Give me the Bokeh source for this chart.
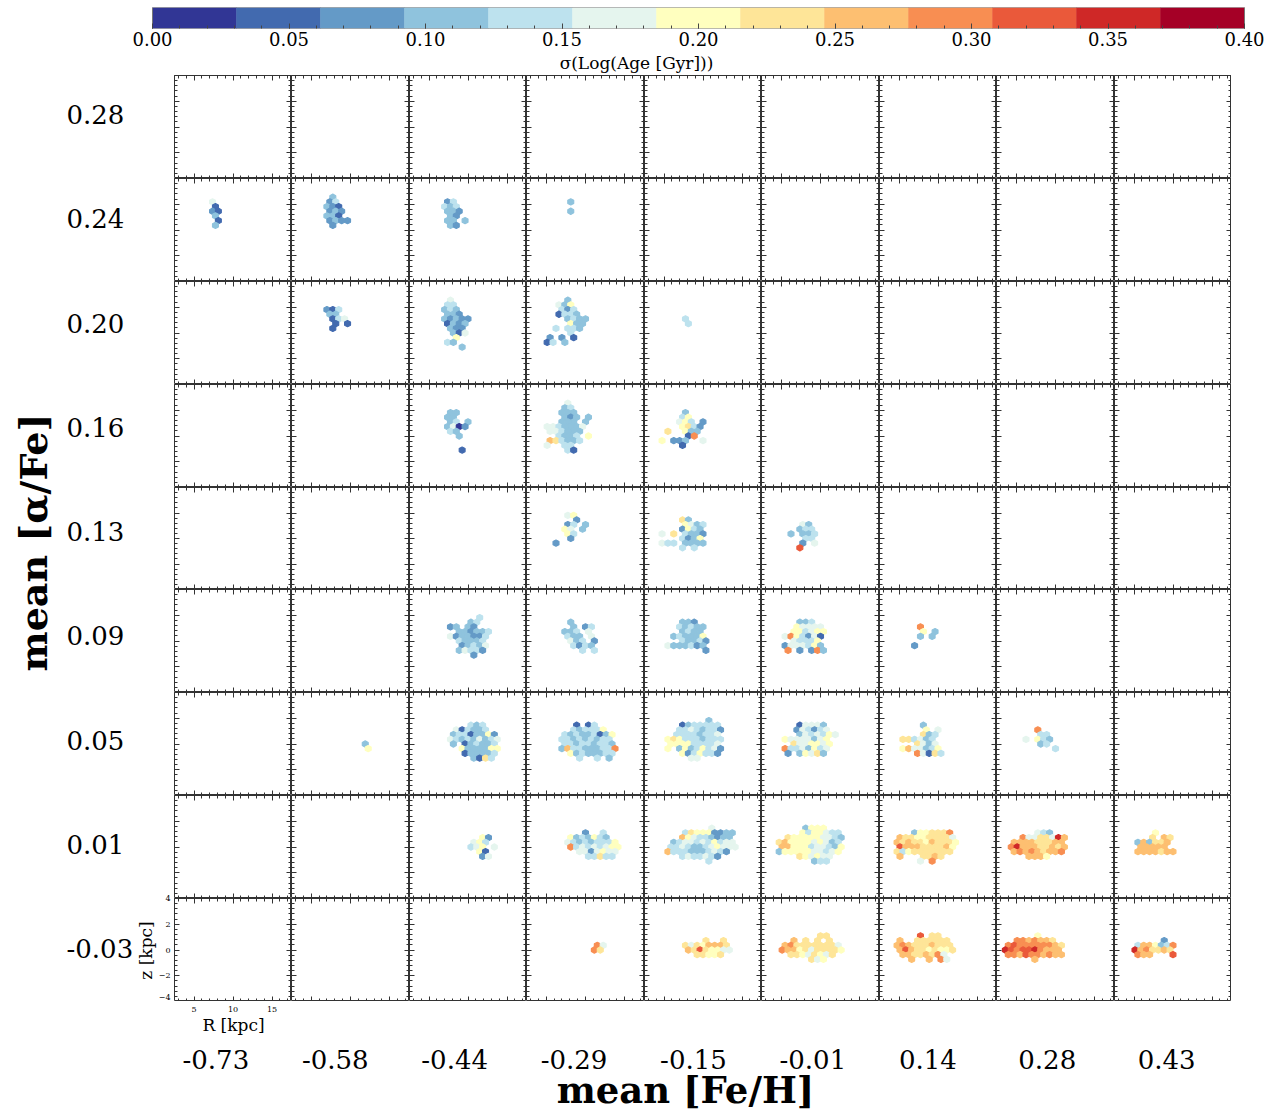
import numpy as np
from bokeh.plotting import figure
from bokeh.layouts import column, row, gridplot
from bokeh.models import Range1d, LinearAxis, FixedTicker, PrintfTickFormatter
from bokeh.core.properties import value
from bokeh.embed import file_html
from bokeh.resources import INLINE

# ---------------- data ----------------
FEH_LABELS = ["-0.73", "-0.58", "-0.44", "-0.29", "-0.15", "-0.01", "0.14", "0.28", "0.43"]
AFE_LABELS = ["0.28", "0.24", "0.20", "0.16", "0.13", "0.09", "0.05", "0.01", "-0.03"]

CB_LOW, CB_HIGH, CB_NBINS = 0.0, 0.40, 13
CB_TICKS = [0.00, 0.05, 0.10, 0.15, 0.20, 0.25, 0.30, 0.35, 0.40]
PALETTE = ["#313695", "#426aaf", "#649ac7", "#8fc3dd", "#bde2ee", "#e5f5ee", "#ffffbf",
           "#fee598", "#fdbf71", "#f88e52", "#ea593a", "#cf2827", "#a50026"]

R_LIM = (2.5, 17.5)
Z_LIM = (-4.0, 4.0)
HEX_NX = 20
R_TICKS = [5, 10, 15]
Z_TICKS = [-4, -2, 0, 2, 4]
R_MINOR = list(range(3, 18))
Z_MINOR = [round(-4 + 0.4 * i, 1) for i in range(21)]

# hexbin cells per panel: {column: [(row index b, first column index a, colour-bin levels)]}
# b, a are hex-lattice indices (doubled coords); each char = one cell, stepping a by 2;
# level = sigma(log age) colour bin (hex digit 0..c), '.' = empty cell
AFE_028 = {}
AFE_024 = {
    0: [(17, 13, "5"), (16, 14, "1"), (15, 13, "21"), (14, 14, "3"), (13, 15, "1"), (12, 14, "3")],
    1: [(18, 14, "3"), (17, 13, "24"), (16, 12, "321"), (15, 13, "232"), (14, 12, "331"),
        (13, 13, "2322"), (12, 14, "2")],
    2: [(17, 13, "24"), (16, 12, "434"), (15, 13, "332"), (14, 14, "32"), (13, 13, "33.3"), (12, 14, "32")],
    3: [(17, 15, "3"), (15, 15, "3")],
}
AFE_020 = {
    1: [(16, 12, "214"), (15, 13, "33"), (14, 14, "145"), (13, 15, "1.1"), (12, 14, "1")],
    2: [(18, 14, "5"), (17, 13, "44"), (16, 12, "343"), (15, 13, "332"), (14, 12, "32322"),
        (13, 13, "1323"), (12, 14, "322"), (11, 15, "315"), (10, 16, "6"), (9, 13, "43"), (8, 18, "3")],
    3: [(18, 14, "3"), (17, 11, "536"), (16, 12, "424"), (15, 11, "1443"), (14, 14, "3433"),
        (13, 15, "633"), (12, 10, "4.443"), (11, 15, "4"), (10, 8, "2.2.1"), (9, 7, "14.3")],
    4: [(14, 14, "4"), (13, 15, "4")],
}
AFE_016 = {
    2: [(16, 14, "33"), (15, 13, "33"), (14, 14, "34.3"), (13, 13, "3502"), (12, 14, "43"),
        (11, 17, "3"), (8, 18, "1")],
    3: [(18, 14, "5"), (17, 13, "34"), (16, 12, "333"), (15, 13, "323.3"), (14, 12, "333.3"),
        (13, 7, "5543335"), (12, 8, "554333"), (11, 11, "4334.6"), (10, 8, "874334"),
        (9, 7, "5..44"), (8, 14, "41")],
    4: [(16, 14, "3"), (15, 13, "46"), (14, 12, "564.2"), (13, 13, "6742"), (12, 8, "7..633"),
        (11, 15, "19"), (10, 6, "6.223..5"), (9, 13, "1")],
}
AFE_013 = {
    3: [(16, 14, "56"), (15, 17, "2"), (14, 14, "24.3"), (13, 13, "65.3"), (12, 14, "64"),
        (11, 15, "2"), (10, 10, "2")],
    4: [(15, 13, "73"), (14, 14, "6534"), (13, 13, "2643"), (12, 6, "5.7.4332"), (11, 13, "4236"),
        (10, 6, "544.3333"), (9, 13, "4.4")],
    5: [(14, 14, "53"), (13, 13, "344"), (12, 10, "3.334"), (11, 15, "44"), (10, 14, "2.5"), (9, 13, "a")],
}
AFE_009 = {
    2: [(16, 24, "4"), (15, 21, "34"), (14, 14, "23.32"), (13, 17, "332334"), (12, 14, "5233224"),
        (11, 17, "43334"), (10, 18, "23435"), (9, 17, "35442"), (8, 22, "2")],
    3: [(15, 15, "3"), (14, 16, "3.24"), (13, 13, "334.5"), (12, 14, "433.5"), (11, 15, "534.2"),
        (10, 16, "4243"), (9, 19, "4.4")],
    4: [(15, 13, "332"), (14, 12, "43433"), (13, 13, "3433"), (12, 10, "343336"), (11, 13, "43342"),
        (10, 8, "5333423"), (9, 21, "2")],
    5: [(15, 13, "334"), (14, 12, "65555"), (13, 11, "664566"), (12, 8, "5964251"), (11, 11, "54446"),
        (10, 8, "2555463"), (9, 9, "9.2.293")],
    6: [(14, 14, "9"), (13, 15, "6.3"), (12, 14, "3.3"), (10, 12, "2")],
}
AFE_005 = {
    1: [(11, 25, "3"), (10, 26, "6")],
    2: [(15, 21, "434"), (14, 16, "514334"), (13, 15, "34413362"), (12, 14, "543435345"),
        (11, 15, "3.134334"), (10, 18, "6333366"), (9, 19, "133334"), (8, 22, "3174")],
    3: [(15, 17, "1.14"), (14, 16, "434446"), (13, 13, "434334136"), (12, 12, "443434344"),
        (11, 13, "443443443"), (10, 12, "3844333449"), (9, 15, "63433344"), (8, 18, "4..4.3")],
    4: [(16, 22, "3"), (15, 13, "1344444"), (14, 12, "44543442"), (13, 11, "44443445"),
        (12, 8, "6764443444"), (11, 9, "666644445"), (10, 8, "6.36346452"), (9, 13, "6246442"),
        (8, 16, "55")],
    5: [(15, 13, "15553"), (14, 12, "254245"), (13, 13, "3545465"), (12, 8, "65555356"),
        (11, 11, "7556656"), (10, 8, "94453645"), (9, 9, "2.36573")],
    6: [(15, 15, "3"), (14, 16, "6.5"), (13, 15, "734"), (12, 8, "774534"), (11, 13, "7535"),
        (10, 8, "6855346"), (9, 13, "95174")],
    7: [(14, 14, "9"), (13, 15, "44"), (12, 10, "5.643"), (11, 15, "34"), (10, 20, "4")],
}
AFE_001 = {
    2: [(13, 25, "62"), (12, 22, "564"), (11, 21, "456.5"), (10, 24, "61"), (9, 25, "25")],
    3: [(14, 20, "2..4"), (13, 15, "6343643"), (12, 14, "543434446"), (11, 15, "945454566"),
        (10, 18, "5525655"), (9, 21, "44744")],
    4: [(15, 23, "5"), (14, 14, "476662233"), (13, 13, "865443233"), (12, 10, "34554546455"),
        (11, 9, "445433456555"), (10, 8, "84443334542"), (9, 13, "4544542"), (8, 22, "4")],
    5: [(15, 15, "3666"), (14, 14, "6466544"), (13, 9, "7666665543"), (12, 6, "78666656534"),
        (11, 7, "88666455436"), (10, 6, "36666655456"), (9, 13, "765655"), (8, 18, "344")],
    6: [(14, 12, "3667779"), (13, 7, "8776677775"), (12, 6, "87877687776"), (11, 7, "a888777786"),
        (10, 6, "7467777777"), (9, 7, "8...7787"), (8, 14, "5.9")],
    7: [(14, 14, "543"), (13, 9, "955775b8"), (12, 6, "888877788"), (11, 5, "9b88877878"),
        (10, 6, "898987889"), (9, 11, "8886")],
    8: [(14, 14, "6"), (13, 13, "7.87"), (12, 8, "383778"), (11, 9, "88888"), (10, 8, "8888788")],
}
AFE_M003 = {
    3: [(12, 24, "95"), (11, 23, "97")],
    4: [(13, 21, "7..7"), (12, 14, "75768887"), (11, 15, "87a76655"), (10, 18, "77667")],
    5: [(14, 20, "77"), (13, 11, "8.7.7.7"), (12, 8, "8977777775"), (11, 7, "98867577776"),
        (10, 10, "77657657"), (9, 17, "756")],
    6: [(14, 14, "a.77"), (13, 7, "8..777777"), (12, 6, "8987778777"), (11, 7, "8a87767667"),
        (10, 8, "88778795"), (9, 11, "8..8.95")],
    7: [(14, 14, "6"), (13, 7, "9989887"), (12, 4, "9a99999987"), (11, 3, "ba9aab9888"),
        (10, 4, "998a998988"), (9, 13, "8")],
    8: [(13, 17, "2"), (12, 8, "4886349"), (11, 7, "b897787"), (10, 8, "988...a")],
}
PANEL_ROWS = [AFE_028, AFE_024, AFE_020, AFE_016, AFE_013, AFE_009, AFE_005, AFE_001, AFE_M003]

# ---------------- layout constants (page pixels) ----------------
PAGE_W, PAGE_H = 1272, 1111
COL_W = [117, 118, 117, 118, 117, 118, 117, 118, 117]
ROW_H = [103, 103, 103, 103, 102, 103, 103, 103, 103]
GRID_X0, GRID_Y0, GRID_Y1 = 174, 75, 1001
CB_X0, CB_X1 = 152, 1244
SERIF = value("DejaVu Serif")

SX = (R_LIM[1] - R_LIM[0]) / HEX_NX
SY = (Z_LIM[1] - Z_LIM[0]) / int(HEX_NX / np.sqrt(3))
HEX_DX = np.array([0.5, 0.5, 0.0, -0.5, -0.5, 0.0]) * SX
HEX_DY = np.array([-1 / 6, 1 / 6, 1 / 3, 1 / 6, -1 / 6, -1 / 3]) * SY


def hex_polys(cells):
    xs, ys, cs = [], [], []
    for b, a0, levels in cells:
        for k, ch in enumerate(levels):
            if ch == ".":
                continue
            a = a0 + 2 * k
            xc = R_LIM[0] + a * SX / 2
            yc = Z_LIM[0] + b * SY / 2
            xs.append(list(xc + HEX_DX))
            ys.append(list(yc + HEX_DY))
            cs.append(PALETTE[int(ch, 16)])
    return xs, ys, cs


AX_STYLE = dict(axis_line_color=None, major_tick_in=5, major_tick_out=0, minor_tick_in=3,
                minor_tick_out=0, major_tick_line_color="#333333", minor_tick_line_color="#333333",
                major_label_text_font_size="0px", major_label_text_color=None,
                major_label_standoff=0)


def make_panel(w, h, cells):
    p = figure(width=w, height=h, x_range=Range1d(*R_LIM), y_range=Range1d(*Z_LIM),
               output_backend="svg", toolbar_location=None, x_axis_type=None, y_axis_type=None,
               min_border=0, outline_line_color="#333333", outline_line_width=1,
               background_fill_color="white", border_fill_color="white")
    for loc in ("below", "above"):
        p.add_layout(LinearAxis(ticker=FixedTicker(ticks=R_TICKS, minor_ticks=R_MINOR), **AX_STYLE), loc)
    for loc in ("left", "right"):
        p.add_layout(LinearAxis(ticker=FixedTicker(ticks=Z_TICKS, minor_ticks=Z_MINOR), **AX_STYLE), loc)
    if cells:
        xs, ys, cs = hex_polys(cells)
        p.patches(xs, ys, fill_color=cs, line_color=cs, line_width=1.2)
    return p


grid_rows = []
for r, panel_row in enumerate(PANEL_ROWS):
    grid_rows.append([make_panel(COL_W[c], ROW_H[r], panel_row.get(c)) for c in range(9)])
grid = gridplot(grid_rows, toolbar_location=None)

# ---------------- colour bar (frame spans the full page width) ----------------
cb_scale = (CB_HIGH - CB_LOW) / (CB_X1 - CB_X0)
cb = figure(width=PAGE_W, height=GRID_Y0,
            x_range=Range1d(CB_LOW - CB_X0 * cb_scale, CB_HIGH + (PAGE_W - CB_X1) * cb_scale),
            y_range=Range1d(0, 1), output_backend="svg", toolbar_location=None,
            x_axis_type=None, y_axis_type=None, min_border_left=0, min_border_right=0,
            min_border_top=7, min_border_bottom=44, outline_line_color=None)
edges = np.linspace(CB_LOW, CB_HIGH, CB_NBINS + 1)
cb.quad(left=edges[:-1], right=edges[1:], bottom=0, top=1, fill_color=PALETTE,
        line_color=PALETTE, line_width=0.5)
cb.quad(left=[CB_LOW], right=[CB_HIGH], bottom=[0], top=[1], fill_color=None,
        line_color="#777777", line_width=1)
cb_ax = LinearAxis(ticker=FixedTicker(ticks=CB_TICKS, minor_ticks=[i * 0.01 for i in range(41)]),
                   formatter=PrintfTickFormatter(format="%.2f"), axis_label="σ(Log(Age [Gyr]))",
                   axis_line_color=None, major_tick_in=5, major_tick_out=0, minor_tick_in=3,
                   minor_tick_out=0, major_tick_line_color="#444444", minor_tick_line_color="#444444",
                   major_label_text_font="DejaVu Serif", major_label_text_font_size="18px",
                   major_label_text_color="black", major_label_standoff=3,
                   axis_label_text_font="DejaVu Serif", axis_label_text_font_size="17px",
                   axis_label_text_font_style="normal", axis_label_text_color="black",
                   axis_label_standoff=4)
cb.add_layout(cb_ax, "below")

# ---------------- left strip ----------------
ls = figure(width=GRID_X0, height=GRID_Y1 - GRID_Y0, x_range=Range1d(0, GRID_X0),
            y_range=Range1d(GRID_Y1, GRID_Y0), output_backend="svg", toolbar_location=None,
            x_axis_type=None, y_axis_type=None, min_border=0, outline_line_color=None)
ls.text(x=[66] * 9, y=list(np.linspace(114, 948, 9)), text=AFE_LABELS, text_font=SERIF,
        text_font_size="26px", text_align="left", text_baseline="middle", text_color="black")
ls.text(x=[33], y=[542], text=["mean [α/Fe]"], angle=np.pi / 2, text_font=SERIF,
        text_font_size="38px", text_font_style="bold", text_align="center",
        text_baseline="middle", text_color="black")
z_lab_y = [min(GRID_Y1 - 4, GRID_Y1 - (z - Z_LIM[0]) / (Z_LIM[1] - Z_LIM[0]) * ROW_H[-1]) for z in Z_TICKS]
ls.text(x=[170] * len(Z_TICKS), y=z_lab_y, text=[str(z).replace("-", "\u2212") for z in Z_TICKS],
        text_font=SERIF, text_font_size="8px", text_align="right", text_baseline="middle",
        text_color="black")
ls.text(x=[145], y=[950], text=["z [kpc]"], angle=np.pi / 2, text_font=SERIF,
        text_font_size="17px", text_align="center", text_baseline="middle", text_color="black")

# ---------------- bottom strip ----------------
bs = figure(width=PAGE_W, height=PAGE_H - GRID_Y1, x_range=Range1d(0, PAGE_W),
            y_range=Range1d(PAGE_H, GRID_Y1), output_backend="svg", toolbar_location=None,
            x_axis_type=None, y_axis_type=None, min_border=0, outline_line_color=None)
r_lab_x = [GRID_X0 + (R - R_LIM[0]) / (R_LIM[1] - R_LIM[0]) * COL_W[0] for R in R_TICKS]
bs.text(x=r_lab_x, y=[1009] * len(R_TICKS), text=[str(R) for R in R_TICKS], text_font=SERIF,
        text_font_size="8px", text_align="center", text_baseline="middle", text_color="black")
bs.text(x=[233], y=[1024], text=["R [kpc]"], text_font=SERIF, text_font_size="17px",
        text_align="center", text_baseline="middle", text_color="black")
bs.text(x=[182 + 119.4 * c for c in range(9)], y=[1059] * 9, text=FEH_LABELS, text_font=SERIF,
        text_font_size="26px", text_align="left", text_baseline="middle", text_color="black")
bs.text(x=[685], y=[1089], text=["mean [Fe/H]"], text_font=SERIF, text_font_size="37px",
        text_font_style="bold", text_align="center", text_baseline="middle", text_color="black")

layout = column(cb, row(ls, grid), bs)
open("out.html", "w").write(file_html(layout, INLINE))
